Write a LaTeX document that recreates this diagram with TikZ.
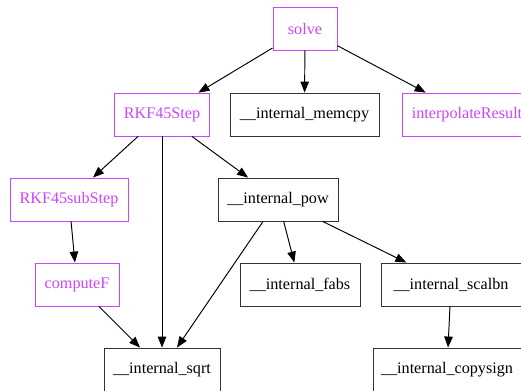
\documentclass[tikz,border=0pt]{standalone}
\usepackage{fontspec}
\setmainfont{Liberation Serif}
\usepackage{xcolor}
\usetikzlibrary{arrows.meta, positioning}

\definecolor{fnmagenta}{RGB}{204,68,255}

\begin{document}
\begin{tikzpicture}[
    x=0.02cm, y=-0.02cm,
    fn/.style={draw=fnmagenta, text=fnmagenta, line width=0.5pt, minimum height=0.86cm, inner sep=0pt, font=\rmfamily\fontsize{9.2}{11}\selectfont},
    ext/.style={draw=black!80, text=black, line width=0.5pt, minimum height=0.86cm, inner sep=0pt, font=\rmfamily\fontsize{9.2}{11}\selectfont},
    call_line/.style={line width=0.55pt, draw=black, -{Triangle[length=0.22cm, width=0.17cm]}}
]
    \useasboundingbox (0,0) rectangle (521,391);
    \clip (0,0) rectangle (521,391);

    % Top level
    \node (solve) [fn, minimum width=1.28cm] at (305, 28.5) {solve};

    % Second row
    \node (rkfstep) [fn, minimum width=1.9cm] at (162, 114.5) {RKF45Step};
    \node (memcpy) [ext, minimum width=2.98cm] at (304.5, 114.5) {\_\_internal\_memcpy};
    \node (interp) [fn, minimum width=2.6cm] at (467, 114.5) {interpolateResult};

    % Third row
    \node (rkfsub) [fn, minimum width=2.36cm] at (69, 199.5) {RKF45subStep};
    \node (pow) [ext, minimum width=2.4cm] at (278, 199.5) {\_\_internal\_pow};

    % Fourth row
    \node (computef) [fn, minimum width=1.68cm] at (77, 284.5) {computeF};
    \node (fabs) [ext, minimum width=2.4cm] at (300, 284.5) {\_\_internal\_fabs};
    \node (scalbn) [ext, minimum width=2.8cm] at (451, 284.5) {\_\_internal\_scalbn};

    % Bottom row
    \node (sqrt) [ext, minimum width=2.32cm] at (162, 369.5) {\_\_internal\_sqrt};
    \node (copysign) [ext, minimum width=2.96cm] at (447, 369.5) {\_\_internal\_copysign};

    % Calls
    \draw [call_line] (solve) -- (rkfstep);
    \draw [call_line] (solve) -- (memcpy);
    \draw [call_line] (solve) -- (interp);
    \draw [call_line] (rkfstep) -- (rkfsub);
    \draw [call_line] (rkfstep) -- (sqrt);
    \draw [call_line] (rkfstep) -- (pow);
    \draw [call_line] (rkfsub) -- (computef);
    \draw [call_line] (computef) -- (sqrt);
    \draw [call_line] (pow) -- (sqrt);
    \draw [call_line] (pow) -- (fabs);
    \draw [call_line] (pow) -- (scalbn);
    \draw [call_line] (scalbn) -- (copysign);
\end{tikzpicture}
\end{document}
